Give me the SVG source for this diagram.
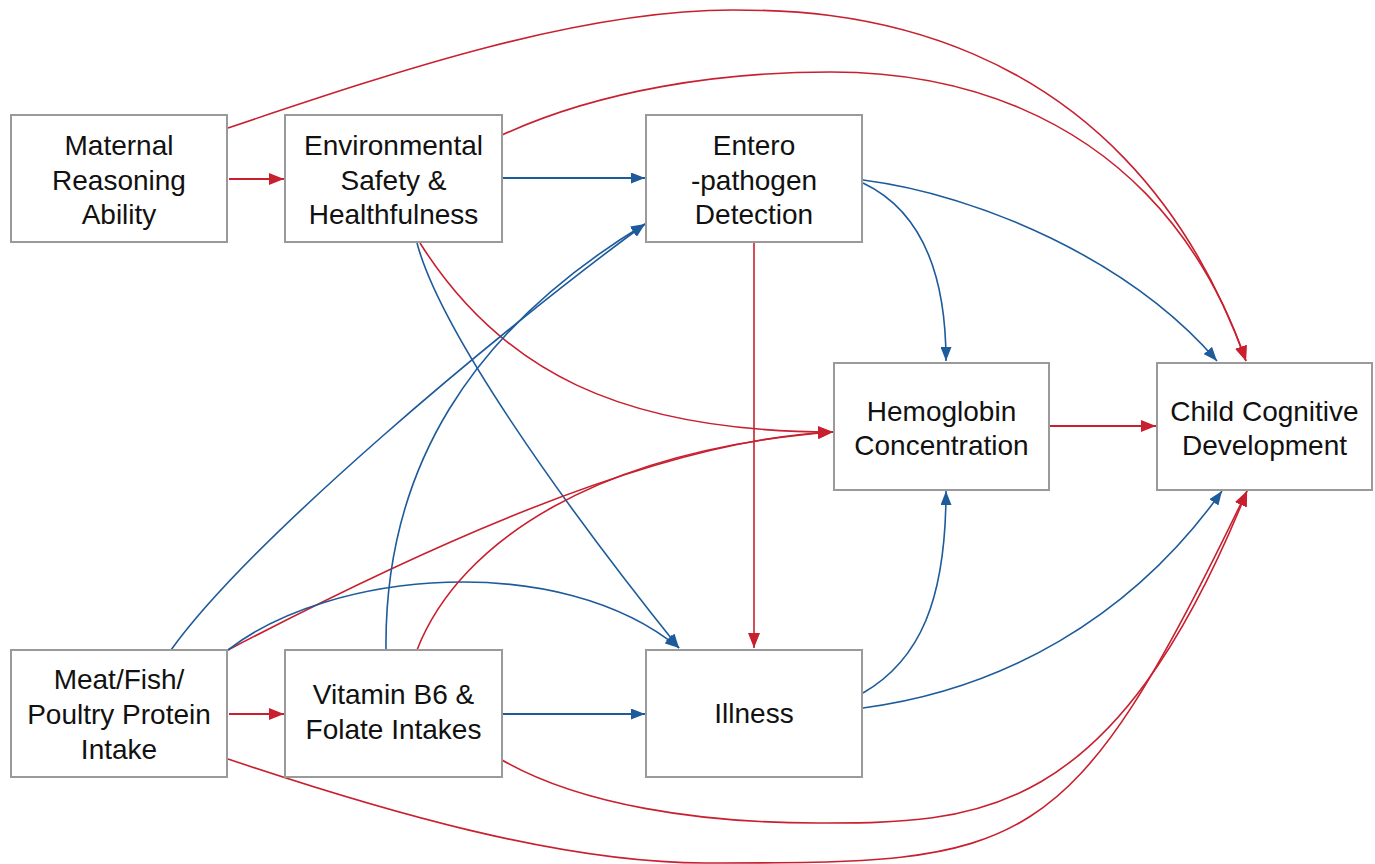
<svg xmlns="http://www.w3.org/2000/svg" width="1375" height="864" viewBox="0 0 1375 864">
<style>
.box{fill:#fff;stroke:#9a9a9a;stroke-width:2}
.lbl{font-family:"Liberation Sans",Arial,sans-serif;font-size:28px;fill:#111;text-anchor:middle}
.r{fill:none;stroke:#c8202f;stroke-width:1.6}
.b{fill:none;stroke:#1d5b9b;stroke-width:1.6}
.rs{fill:none;stroke:#c8202f;stroke-width:2.2}
.bs{fill:none;stroke:#1d5b9b;stroke-width:2.2}
</style>
<defs>
<marker id="ar" viewBox="0 0 15 12" refX="15" refY="6" markerWidth="15" markerHeight="12" markerUnits="userSpaceOnUse" orient="auto">
<path d="M0,0 L15,6 L0,12 z" fill="#c8202f"/>
</marker>
<marker id="ab" viewBox="0 0 14 11" refX="14" refY="5.5" markerWidth="14" markerHeight="11" markerUnits="userSpaceOnUse" orient="auto">
<path d="M0,0 L14,5.5 L0,11 z" fill="#1d5b9b"/>
</marker>
</defs>
<rect width="1375" height="864" fill="#fff"/>
<g id="connectors">
<path class="rs" d="M229,179 L284,179" marker-end="url(#ar)"/>
<path class="r" d="M228,128 C400,70 580,10 733,10 C815,10 1120,10 1246,361" marker-end="url(#ar)"/>
<path class="r" d="M502,135 C600,90 720,72 831,72 C882,72 1146,72 1246,361" marker-end="url(#ar)"/>
<path class="bs" d="M503,178 L645,178" marker-end="url(#ab)"/>
<path class="b" d="M417,243 C440,330 560,500 679,648" marker-end="url(#ab)"/>
<path class="r" d="M420,243 C500,370 620,432 833,432" marker-end="url(#ar)"/>
<path class="r" d="M754,243 L754,648" marker-end="url(#ar)"/>
<path class="b" d="M863,183 C920,210 946,270 946,361" marker-end="url(#ab)"/>
<path class="b" d="M863,180 C980,195 1130,260 1217,361" marker-end="url(#ab)"/>
<path class="rs" d="M1050,426 L1156,426" marker-end="url(#ar)"/>
<path class="b" d="M171,650 C250,540 500,330 645,224" marker-end="url(#ab)"/>
<path class="r" d="M228,650 C400,560 650,440 833,432" marker-end="url(#ar)"/>
<path class="b" d="M228,650 C330,570 560,550 679,648" marker-end="url(#ab)"/>
<path class="rs" d="M229,714 L284,714" marker-end="url(#ar)"/>
<path class="r" d="M228,759 C380,810 560,863 705,863 C1028,863 1068,863 1247,491" marker-end="url(#ar)"/>
<path class="b" d="M386,650 C384,470 470,330 645,224" marker-end="url(#ab)"/>
<path class="r" d="M417,650 C460,540 600,450 833,432" marker-end="url(#ar)"/>
<path class="bs" d="M503,714 L645,714" marker-end="url(#ab)"/>
<path class="r" d="M502,760 C580,805 700,823 817,823 C976,823 1113,823 1247,491" marker-end="url(#ar)"/>
<path class="b" d="M863,693 C920,660 946,600 946,491" marker-end="url(#ab)"/>
<path class="b" d="M863,708 C1000,690 1130,620 1222,491" marker-end="url(#ab)"/>
</g>
<g id="maternal"><rect class="box" x="11" y="115" width="216" height="127"/>
<text class="lbl" x="119" y="155">Maternal</text><text class="lbl" x="119" y="190">Reasoning</text><text class="lbl" x="119" y="224">Ability</text></g>
<g id="environmental"><rect class="box" x="285" y="115" width="217" height="127"/>
<text class="lbl" x="393.5" y="155">Environmental</text><text class="lbl" x="393.5" y="190">Safety &amp;</text><text class="lbl" x="393.5" y="224">Healthfulness</text></g>
<g id="enteropathogen"><rect class="box" x="646" y="115" width="216" height="127"/>
<text class="lbl" x="754" y="155">Entero</text><text class="lbl" x="754" y="190">-pathogen</text><text class="lbl" x="754" y="224">Detection</text></g>
<g id="hemoglobin"><rect class="box" x="834" y="363" width="215" height="127"/>
<text class="lbl" x="941.5" y="421">Hemoglobin</text><text class="lbl" x="941.5" y="455">Concentration</text></g>
<g id="child"><rect class="box" x="1157" y="363" width="215" height="127"/>
<text class="lbl" x="1264.5" y="421">Child Cognitive</text><text class="lbl" x="1264.5" y="455">Development</text></g>
<g id="meat"><rect class="box" x="11" y="650" width="216" height="127"/>
<text class="lbl" x="119" y="689">Meat/Fish/</text><text class="lbl" x="119" y="724">Poultry Protein</text><text class="lbl" x="119" y="759">Intake</text></g>
<g id="vitamin"><rect class="box" x="285" y="650" width="217" height="127"/>
<text class="lbl" x="393.5" y="704">Vitamin B6 &amp;</text><text class="lbl" x="393.5" y="739">Folate Intakes</text></g>
<g id="illness"><rect class="box" x="646" y="650" width="216" height="127"/>
<text class="lbl" x="754" y="723">Illness</text></g>
</svg>
